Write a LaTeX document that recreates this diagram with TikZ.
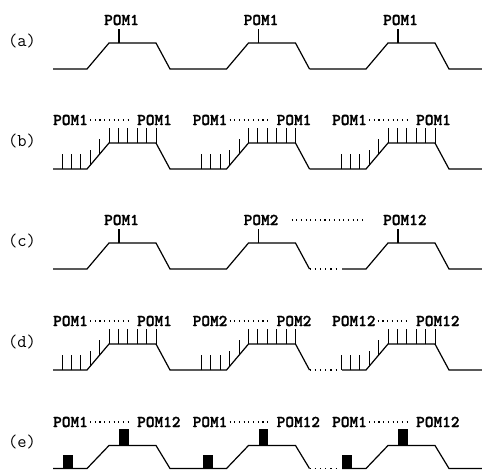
\documentclass[tikz,border=0pt]{standalone}
\usepackage{fontspec}
\newfontfamily\pomfont{lmmonolt10-bold.otf}[FakeBold=1.4]
\usepackage{tikz}

\begin{document}
\begin{tikzpicture}[x=1pt, y=-1pt,
  wave/.style={line width=1.2pt, line join=miter},
  tick/.style={line width=1pt},
  pom/.style={font=\pomfont\fontsize{16.5}{17}\selectfont, inner sep=0pt, anchor=west},
  tag/.style={font=\ttfamily\fontsize{18}{18}\selectfont, inner sep=0pt},
  lead/.style={line width=1.1pt, dash pattern=on 1.1pt off 3.6pt, shorten <=2pt, shorten >=6pt},
  gapdots/.style={dash pattern=on 1.2pt off 4pt, shorten >=4pt}]
  \useasboundingbox[fill=white] (0,0) rectangle (482,469);

  % waveforms: base / top / dotted low part or not
  \foreach \b/\t/\g in {69/43/0, 169/143/0, 269/243/1, 370/344/1, 468.5/445.5/1} {
    \draw[wave] (53,\b) -- (87,\b) -- (109,\t) -- (156,\t) -- (170,\b) -- (226.5,\b) -- (248.5,\t) -- (295.5,\t) -- (309.5,\b);
    \ifnum\g=0
      \draw[wave] (309.5,\b) -- (366,\b) -- (388,\t) -- (435,\t) -- (449,\b) -- (482,\b);
    \else
      \draw[wave,gapdots] (309.5,\b) -- (342,\b);
      \draw[wave] (342,\b) -- (366,\b) -- (388,\t) -- (435,\t) -- (449,\b) -- (482,\b);
    \fi
  }

  \foreach \l/\b in {a/69, b/169, c/269, d/370, e/470}
    \node[tag] (tag\l) at (22,\b-28) {(\l)};

  % (a)
  \foreach \k in {0,1,2} {
    \pgfmathsetmacro\xo{87+139.5*\k}
    \node[pom] (pa\k) at (\xo+17,20) {POM1};
    \coordinate (ma\k) at (\xo+32,43);
    \draw[wave] (ma\k) -- ++(0,-14);
  }

  % (b)
  \foreach \k in {0,1,2} {
    \pgfmathsetmacro\xo{87+139.5*\k}
    \node[pom] (pb\k) at (\xo-34,120) {POM1};
    \node[pom] (qb\k) at (\xo+50,120) {POM1};
    \draw[lead] (pb\k) -- (qb\k);
  }

  % (c)
  \foreach \k/\n in {0/1,1/2,2/12} {
    \pgfmathsetmacro\xo{87+139.5*\k}
    \node[pom] (pc\k) at (\xo+17,220) {POM\n};
    \coordinate (mc\k) at (\xo+32,243);
    \draw[wave] (mc\k) -- ++(0,-14);
  }
  \draw[lead, shorten <=13pt, shorten >=18pt] (pc1) -- (pc2);

  % (d)
  \foreach \k/\n in {0/1,1/2,2/12} {
    \pgfmathsetmacro\xo{87+139.5*\k}
    \node[pom] (pd\k) at (\xo-34,321) {POM\n};
    \node[pom] (qd\k) at (\xo+50,321) {POM\n};
    \draw[lead] (pd\k) -- (qd\k);
  }

  % (e)
  \foreach \k in {0,1,2} {
    \pgfmathsetmacro\xo{87+139.5*\k}
    \node[pom] (pe\k) at (\xo-34,422) {POM1};
    \node[pom] (qe\k) at (\xo+50,422) {POM12};
    \draw[lead] (pe\k) -- (qe\k);
    \fill (\xo-24,468.5) rectangle ++(10,-14);
    \fill (\xo+32,445.5) rectangle ++(9.5,-17);
  }

  % ticks on (b) and (d)
  \foreach \b/\t in {169/143, 370/344}
    \foreach \k in {0,1,2}
      \foreach \j in {0,...,10} {
        \pgfmathsetmacro\xo{87+139.5*\k}
        \pgfmathsetmacro\xt{\xo-25+9.4*\j}
        \pgfmathsetmacro\yt{\b+(\t-\b)*min(max((\xt-\xo)/22,0),1)}
        \draw[tick] (\xt,\yt) -- ++(0,-15);
      }
\end{tikzpicture}
\end{document}
